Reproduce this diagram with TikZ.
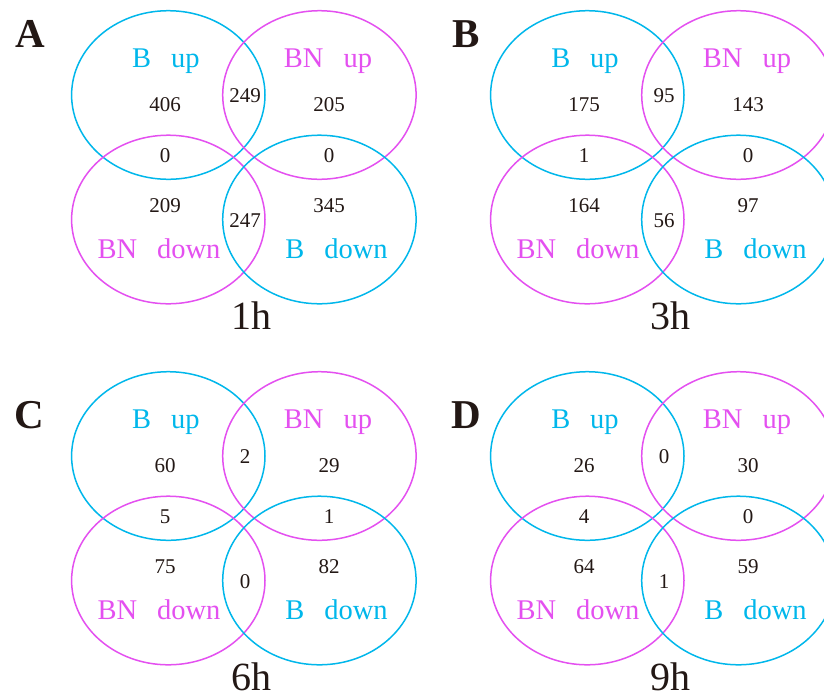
\documentclass[tikz,border=0pt]{standalone}
\usepackage{fontspec}
\setmainfont{Liberation Serif}
\definecolor{vcyan}{RGB}{0,183,235}
\definecolor{vmag}{RGB}{228,80,240}
\definecolor{vink}{RGB}{35,24,21}
\begin{document}
\begin{tikzpicture}[x=1pt,y=-1pt,
  cyanring/.style={draw=vcyan,line width=1.5pt},
  magring/.style={draw=vmag,line width=1.5pt},
  setlab/.style={font=\fontsize{28.5}{28.5}\selectfont,anchor=base,inner sep=0pt},
  num/.style={font=\fontsize{21}{21}\selectfont,text=vink,inner sep=0pt},
  panlet/.style={font=\fontsize{41}{41}\selectfont\bfseries,text=vink,inner sep=0pt},
  timelab/.style={font=\fontsize{40}{40}\selectfont,text=vink,anchor=base,inner sep=0pt}]
\useasboundingbox (0,0) rectangle (824,694);
\clip (0,0) rectangle (824,694);
\fill[white] (0,0) rectangle (824,694);
\foreach \p/\dx/\dy/\Let/\lx/\ly/\nA/\nB/\nC/\nD/\nE/\nF/\nG/\nH/\Tm in {
 a/0/0/A/30/34/406/249/205/0/0/209/247/345/1h,
 b/419/0/B/466/34/175/95/143/1/0/164/56/97/3h,
 c/0/361/C/29/415/60/2/29/5/1/75/0/82/6h,
 d/419/361/D/466/415/26/0/30/4/0/64/1/59/9h}
{
  \node[panlet] (\p-letter) at (\lx,\ly) {\Let};
  \begin{scope}[shift={(\dx,\dy)}]
    \draw[cyanring] (168.3,95) ellipse [x radius=96.7pt, y radius=84.3pt];
    \draw[magring] (319.4,95) ellipse [x radius=96.7pt, y radius=84.3pt];
    \draw[magring] (168.3,219.5) ellipse [x radius=96.7pt, y radius=84.3pt];
    \draw[cyanring] (319.4,219.5) ellipse [x radius=96.7pt, y radius=84.3pt];
    \node[setlab,text=vcyan] (\p-bup) at (166,67) {B\hspace{20pt}up};
    \node[setlab,text=vmag] (\p-bnup) at (328,67) {BN\hspace{20pt}up};
    \node[setlab,text=vmag] (\p-bndown) at (159,258) {BN\hspace{20pt}down};
    \node[setlab,text=vcyan] (\p-bdown) at (336.5,258) {B\hspace{20pt}down};
    \node[num] (\p-n1) at (165,105) {\nA};
    \node[num] (\p-n2) at (245,96) {\nB};
    \node[num] (\p-n3) at (329,105) {\nC};
    \node[num] (\p-n4) at (165,155.5) {\nD};
    \node[num] (\p-n5) at (329,155.5) {\nE};
    \node[num] (\p-n6) at (165,206) {\nF};
    \node[num] (\p-n7) at (245,221) {\nG};
    \node[num] (\p-n8) at (329,206) {\nH};
    \node[timelab] (\p-time) at (251,329.5) {\Tm};
  \end{scope}
}
\end{tikzpicture}
\end{document}
